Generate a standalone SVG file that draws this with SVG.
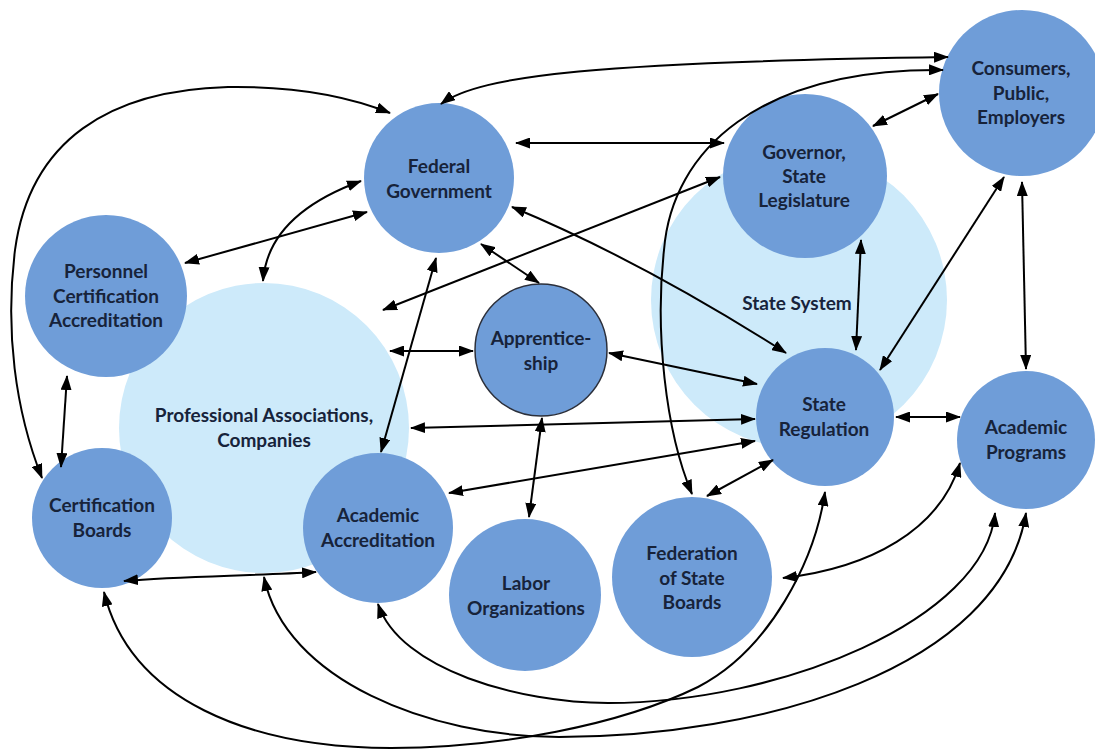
<svg xmlns="http://www.w3.org/2000/svg" width="1095" height="750" viewBox="0 0 1095 750">
<defs>
<style>
.bg{fill:#cdeafa}
.nd{fill:#6f9dd8}
.ap{fill:#6f9dd8;stroke:#2b2f3a;stroke-width:1.5}
.t{font-family:Lato,"Liberation Sans",sans-serif;font-weight:700;font-size:19px;fill:#17233a;text-anchor:middle}
.c{fill:none;stroke:#000;stroke-width:2;marker-start:url(#ah);marker-end:url(#ah)}
</style>
<marker id="ah" viewBox="0 0 15 11" refX="14" refY="5.5" markerWidth="15" markerHeight="11" markerUnits="userSpaceOnUse" orient="auto-start-reverse">
<path d="M0,0 L15,5.5 L0,11 z" fill="#000"/>
</marker>
</defs>
<rect width="1095" height="750" fill="#fff"/>
<g id="prof-assoc">
<circle class="bg" cx="264" cy="428" r="145"/>
<text class="t" x="264" y="422">Professional Associations,</text>
<text class="t" x="264" y="447">Companies</text>
</g>
<g id="state-system">
<circle class="bg" cx="799" cy="300" r="148"/>
<text class="t" x="797" y="310">State System</text>
</g>
<g id="federal">
<circle class="nd" cx="439" cy="178" r="75"/>
<text class="t" x="439" y="173">Federal</text>
<text class="t" x="439" y="198">Government</text>
</g>
<g id="personnel">
<circle class="nd" cx="106" cy="296" r="81"/>
<text class="t" x="106" y="278">Personnel</text>
<text class="t" x="106" y="303">Certification</text>
<text class="t" x="106" y="327">Accreditation</text>
</g>
<g id="cert-boards">
<circle class="nd" cx="102" cy="518" r="70"/>
<text class="t" x="102" y="512">Certification</text>
<text class="t" x="102" y="537">Boards</text>
</g>
<g id="acad-accred">
<circle class="nd" cx="378" cy="528" r="75"/>
<text class="t" x="378" y="522">Academic</text>
<text class="t" x="378" y="547">Accreditation</text>
</g>
<g id="labor">
<circle class="nd" cx="525" cy="595" r="76"/>
<text class="t" x="526" y="590">Labor</text>
<text class="t" x="526" y="615">Organizations</text>
</g>
<g id="federation">
<circle class="nd" cx="692" cy="577" r="80"/>
<text class="t" x="692" y="560">Federation</text>
<text class="t" x="692" y="585">of State</text>
<text class="t" x="692" y="609">Boards</text>
</g>
<g id="state-reg">
<circle class="nd" cx="825" cy="417" r="69"/>
<text class="t" x="824" y="411">State</text>
<text class="t" x="824" y="436">Regulation</text>
</g>
<g id="acad-prog">
<circle class="nd" cx="1026" cy="440" r="69"/>
<text class="t" x="1026" y="434">Academic</text>
<text class="t" x="1026" y="459">Programs</text>
</g>
<g id="governor">
<circle class="nd" cx="805" cy="176" r="82"/>
<text class="t" x="804" y="159">Governor,</text>
<text class="t" x="804" y="183">State</text>
<text class="t" x="804" y="207">Legislature</text>
</g>
<g id="consumers">
<circle class="nd" cx="1022" cy="93" r="83"/>
<text class="t" x="1021" y="75">Consumers,</text>
<text class="t" x="1021" y="100">Public,</text>
<text class="t" x="1021" y="124">Employers</text>
</g>
<g id="apprenticeship">
<circle class="ap" cx="541" cy="350" r="66"/>
<text class="t" x="541" y="345">Apprentice-</text>
<text class="t" x="541" y="370">ship</text>
</g>
<g id="connectors">
<path class="c" d="M42,478 C15,410 5,330 15,250 C30,140 110,90 228,87 C300,86 350,97 390,113"/>
<path class="c" d="M441,104 C480,75 600,62 948,57"/>
<path class="c" d="M516,143 L724,143"/>
<path class="c" d="M692,494 C665,430 655,330 664,250 C672,150 760,68 943,70"/>
<path class="c" d="M873,126 L938,94"/>
<path class="c" d="M185,263 L367,212"/>
<path class="c" d="M361,181 Q268,215 263,281"/>
<path class="c" d="M720,177 L383,310"/>
<path class="c" d="M512,207 Q640,260 786,353"/>
<path class="c" d="M481,244 L539,283"/>
<path class="c" d="M436,258 L381,452"/>
<path class="c" d="M390,351 L473,351"/>
<path class="c" d="M609,353 L757,384"/>
<path class="c" d="M411,428 L755,419"/>
<path class="c" d="M449,493 L755,441"/>
<path class="c" d="M542,418 L529,517"/>
<path class="c" d="M707,496 L773,460"/>
<path class="c" d="M861,240 L856,350"/>
<path class="c" d="M1004,177 L880,370"/>
<path class="c" d="M1022,182 L1026,369"/>
<path class="c" d="M896,417 L960,417"/>
<path class="c" d="M67,376 L61,467"/>
<path class="c" d="M124,581 C180,576 250,576 316,572"/>
<path class="c" d="M104,592 C130,700 250,748 391,748 C500,748 620,725 698,687 C770,650 815,560 825,492"/>
<path class="c" d="M264,577 C285,680 430,737 559,737 C760,737 1000,670 1026,513"/>
<path class="c" d="M378,604 C400,670 520,703 608,703 C780,703 985,620 995,513"/>
<path class="c" d="M783,578 C870,568 940,530 960,463"/>
</g>
</svg>
